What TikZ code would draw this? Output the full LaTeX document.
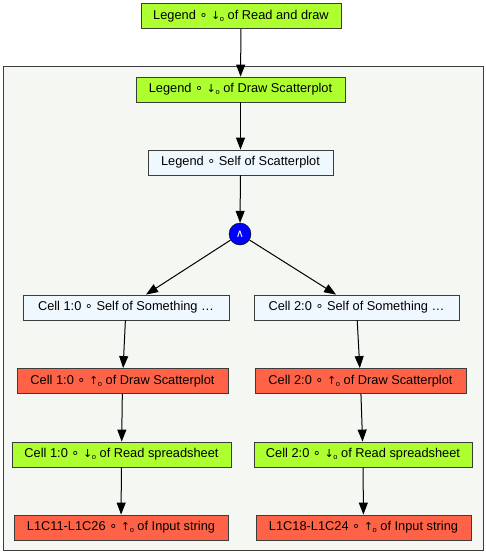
\documentclass[tikz,border=0pt]{standalone}
\usepackage{fontspec}
\setmainfont{Liberation Sans}
\newfontfamily\symfont{DejaVu Sans}
\usetikzlibrary{arrows.meta}

\definecolor{limefill}{HTML}{ADFF2F}
\definecolor{palefill}{HTML}{F0F8FF}
\definecolor{tomatofill}{HTML}{FF6347}
\definecolor{clusterfill}{HTML}{F5F7F2}
\definecolor{linegray}{HTML}{3C3C3C}

% composition sign and the two port arrows
\newcommand{\comp}{{\symfont ∘}}
\newcommand{\portsub}{\raisebox{-0.3ex}{\fontsize{7.5}{7.5}\selectfont o}}
\newcommand{\dport}{{\symfont\fontsize{11}{11}\selectfont ↓}\kern-0.3pt\portsub}
\newcommand{\uport}{{\symfont\fontsize{11}{11}\selectfont ↑}\kern-0.3pt\portsub}

\begin{document}
\begin{tikzpicture}[x=1pt,y=-1pt,font=\fontsize{12.8}{14}\selectfont,
    >={Triangle[length=12pt,width=9pt]}]
  \tikzset{box/.style={draw=linegray,line width=0.8pt,inner sep=0pt,minimum height=25pt,minimum width=#1},
    readbox/.style={box=#1,fill=limefill},
    selfbox/.style={box=#1,fill=palefill},
    writebox/.style={box=#1,fill=tomatofill},
    flow/.style={->,line width=1pt,draw=black}}
  \useasboundingbox (0,0) rectangle (485,557);
  % cluster
  \draw [linegray,line width=0.9pt,fill=clusterfill] (3.5,66) rectangle (483.5,550);
  % nodes
  \node [readbox=200pt] (top) at (241,16) {Legend \comp\ \dport\ of Read and draw};
  \node [readbox=209pt] (leg) at (240.5,89.5) {Legend \comp\ \dport\ of Draw Scatterplot};
  \node [selfbox=185pt] (legself) at (240.5,162.5) {Legend \comp\ Self of Scatterplot};
  \node [circle,draw=black,fill=blue,text=white,inner sep=0pt,minimum size=22pt,font=\fontsize{11}{11}\selectfont\symfont] (and) at (240,234) {∧};
  \node [selfbox=206pt] (selfa) at (126,307.5) {Cell 1:0 \comp\ Self of Something …};
  \node [selfbox=205pt] (selfb) at (356.5,307.5) {Cell 2:0 \comp\ Self of Something …};
  \node [writebox=211pt] (drawa) at (122.5,381) {Cell 1:0 \comp\ \uport\ of Draw Scatterplot};
  \node [writebox=211pt] (drawb) at (360.5,381) {Cell 2:0 \comp\ \uport\ of Draw Scatterplot};
  \node [readbox=219pt] (reada) at (121.5,454.5) {Cell 1:0 \comp\ \dport\ of Read spreadsheet};
  \node [readbox=218pt] (readb) at (363,454.5) {Cell 2:0 \comp\ \dport\ of Read spreadsheet};
  \node [writebox=214pt] (inputa) at (121,527.5) {L1C11-L1C26 \comp\ \uport\ of Input string};
  \node [writebox=215pt] (inputb) at (363.5,527.5) {L1C18-L1C24 \comp\ \uport\ of Input string};
  % edges
  \draw [flow] (top) -- (leg);
  \draw [flow] (leg) -- (legself);
  \draw [flow] (legself) -- (and);
  \draw [flow] (and) -- (selfa);
  \draw [flow] (and) -- (selfb);
  \draw [flow] (selfa) -- (drawa);
  \draw [flow] (selfb) -- (drawb);
  \draw [flow] (drawa) -- (reada);
  \draw [flow] (drawb) -- (readb);
  \draw [flow] (reada) -- (inputa);
  \draw [flow] (readb) -- (inputb);
\end{tikzpicture}
\end{document}
